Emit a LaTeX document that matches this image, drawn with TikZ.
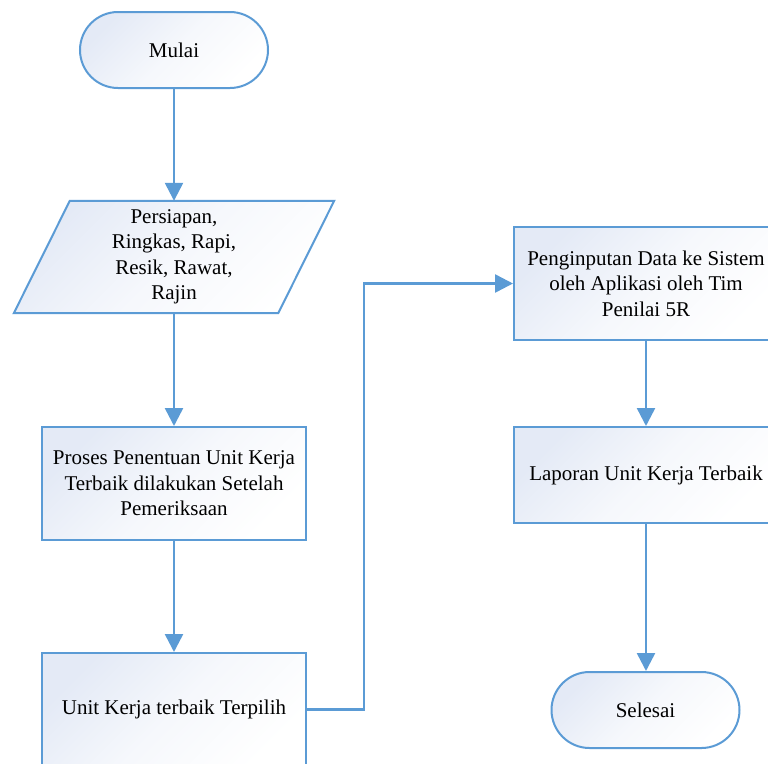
\documentclass[tikz,border=0pt]{standalone}
\usepackage{fontspec}
\setmainfont{Liberation Serif}
\newfontfamily\flowface{Liberation Serif}
\usetikzlibrary{arrows.meta,calc}
\definecolor{edgeblue}{RGB}{91,155,213}
\definecolor{shadeblue}{RGB}{228,234,246}
\tikzset{
  flowfill/.style={top color=shadeblue, bottom color=white,
    middle color=shadeblue!35!white, shading angle=45},
  shapeline/.style={draw=edgeblue, line width=2pt},
  procbox/.style={shapeline, flowfill, minimum width=264pt, minimum height=113pt,
    align=center, inner sep=2pt},
  termbox/.style={shapeline, flowfill, rounded corners=38pt,
    minimum width=188pt, minimum height=76pt, align=center},
  flowarrow/.style={draw=edgeblue, line width=2.5pt,
    -{Triangle[width=18pt,length=18pt]}},
}
\begin{document}
\begin{tikzpicture}[x=1pt, y=-1pt, font=\flowface\fontsize{21}{25.5}\selectfont]
  \useasboundingbox (0,0) rectangle (768,763);
  \clip (0,0) rectangle (768,763);

  % left column
  \node[termbox] (start) at (174,50) {Mulai};

  % input parallelogram: frame node, slanted outline, then its text
  \node[minimum width=264pt, minimum height=112pt, inner sep=0pt] (prep) at (174,257) {};
  \path[shapeline, flowfill]
    ($(prep.south west)+(-28,0)$) -- ($(prep.south east)+(-28,0)$) --
    ($(prep.north east)+(28,0)$) -- ($(prep.north west)+(28,0)$) -- cycle;
  \node[align=center, inner sep=0pt] (preptext) at (prep.center)
    {Persiapan,\\ Ringkas, Rapi,\\ Resik, Rawat,\\ Rajin};

  \node[procbox] (decide) at (174,483.5)
    {Proses Penentuan Unit Kerja\\ Terbaik dilakukan Setelah\\ Pemeriksaan};
  \node[procbox] (chosen) at (174,709.5) {Unit Kerja terbaik Terpilih};

  % right column
  \node[procbox] (input) at (646,283.5)
    {Penginputan Data ke Sistem\\ oleh Aplikasi oleh Tim\\ Penilai 5R};
  \node[procbox, minimum height=96pt] (report) at (646,475) {Laporan Unit Kerja Terbaik};
  \node[termbox] (finish) at (645.5,710) {Selesai};

  % connectors
  \draw[flowarrow] (start.south) -- (prep.north);
  \draw[flowarrow] (prep.south) -- (decide.north);
  \draw[flowarrow] (decide.south) -- (chosen.north);
  \draw[flowarrow] (chosen.east) -- ++(57,0) |- (input.west);
  \draw[flowarrow] (input.south) -- (input.south |- report.north);
  \draw[flowarrow] (report.south) -- (report.south |- finish.north);
\end{tikzpicture}
\end{document}
